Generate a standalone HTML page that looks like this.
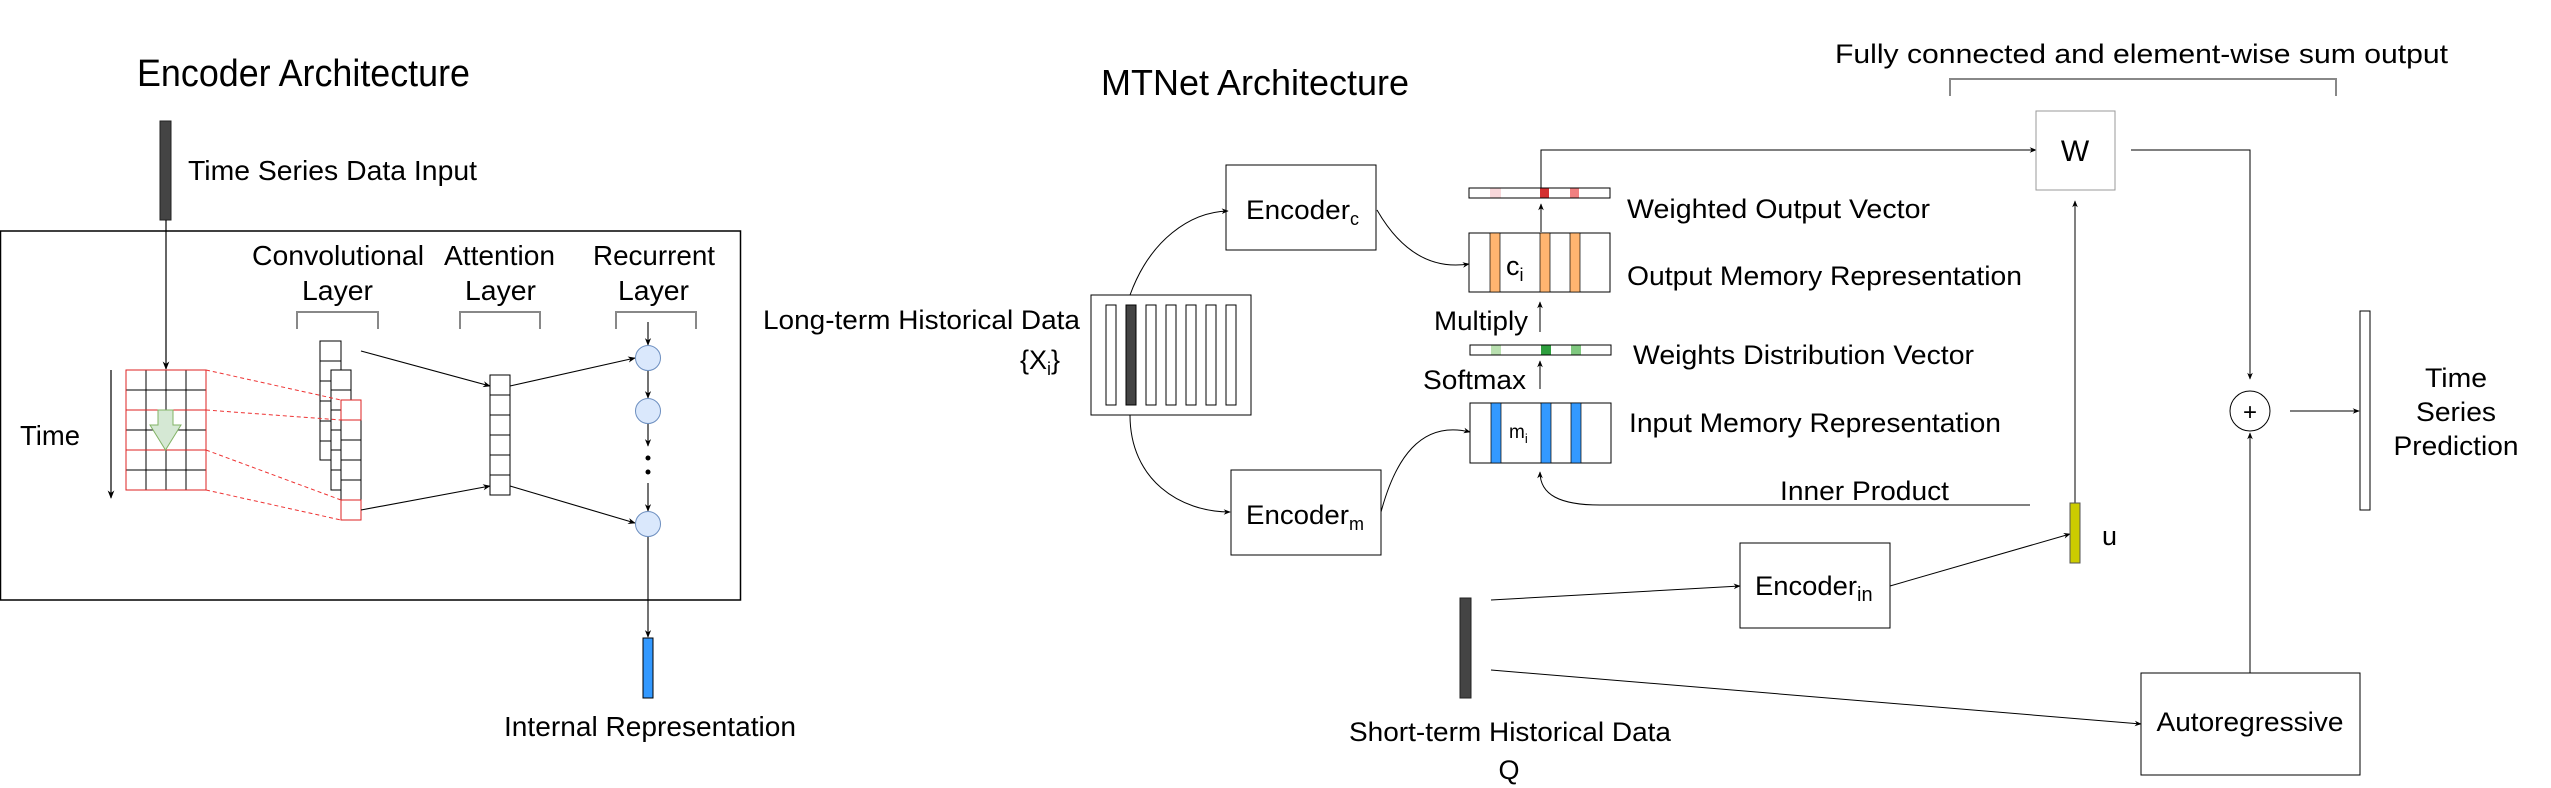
<!DOCTYPE html>
<html><head><meta charset="utf-8"><style>
html,body{margin:0;padding:0;background:#fff}
svg{display:block}
text{font-family:"Liberation Sans",Arial,sans-serif;fill:#000}
</style></head><body>
<svg width="2551" height="788" viewBox="0 0 2551 788" xmlns="http://www.w3.org/2000/svg">
<defs>
<marker id="ah" viewBox="0 0 10 10" refX="9" refY="5" markerWidth="7" markerHeight="7" orient="auto"><path d="M0,1 L10,5 L0,9 L3,5 z" fill="#000"/></marker>
</defs>

<!-- Encoder architecture -->
<g>
<text x="137" y="86" font-size="38" textLength="333" lengthAdjust="spacingAndGlyphs">Encoder Architecture</text>
<rect x="160" y="121" width="11" height="99" fill="#444" stroke="#222"/>
<text x="188" y="180" font-size="28" textLength="289" lengthAdjust="spacingAndGlyphs">Time Series Data Input</text>
<rect x="0.5" y="231" width="740" height="369" fill="none" stroke="#000" stroke-width="1.5"/>
<line x1="166" y1="220" x2="166" y2="369" stroke="#000" stroke-width="1.2" marker-end="url(#ah)"/>
<!-- grid -->
<g stroke="#000" stroke-width="1">
<line x1="146" y1="370" x2="146" y2="490"/><line x1="166" y1="370" x2="166" y2="490"/><line x1="186" y1="370" x2="186" y2="490"/>
<line x1="126" y1="390" x2="206" y2="390"/><line x1="126" y1="430" x2="206" y2="430"/><line x1="126" y1="470" x2="206" y2="470"/>
<rect x="126" y="370" width="80" height="40" fill="none" stroke="#d22"/>
<rect x="126" y="450" width="80" height="40" fill="none" stroke="#d22"/>
<rect x="126" y="370" width="80" height="120" fill="none" stroke="#d22"/>
</g>
<polygon points="158,410 173,410 173,425 181,425 165.5,450 150,425 158,425" fill="#d5e8d4" stroke="#82b366"/>
<line x1="111" y1="370" x2="111" y2="498" stroke="#000" stroke-width="1.2" marker-end="url(#ah)"/>
<text x="20" y="445" font-size="28" textLength="60" lengthAdjust="spacingAndGlyphs">Time</text>
<!-- conv columns -->
<g fill="#fff" stroke="#000" stroke-width="1">
<rect x="320" y="341" width="21" height="119"/>
<line x1="320" y1="361" x2="341" y2="361"/><line x1="320" y1="381" x2="341" y2="381"/><line x1="320" y1="401" x2="341" y2="401"/><line x1="320" y1="421" x2="341" y2="421"/><line x1="320" y1="441" x2="341" y2="441"/>
<rect x="331" y="370" width="20" height="120"/>
<line x1="331" y1="390" x2="351" y2="390"/><line x1="331" y1="410" x2="351" y2="410"/><line x1="331" y1="430" x2="351" y2="430"/><line x1="331" y1="450" x2="351" y2="450"/><line x1="331" y1="470" x2="351" y2="470"/>
<rect x="341" y="400" width="20" height="120"/>
<line x1="341" y1="440" x2="361" y2="440"/><line x1="341" y1="460" x2="361" y2="460"/><line x1="341" y1="480" x2="361" y2="480"/>
<rect x="341" y="400" width="20" height="20" stroke="#d22"/>
<rect x="341" y="500" width="20" height="20" stroke="#d22"/>
</g>
<g stroke="#e33" stroke-dasharray="4,3" stroke-width="1">
<line x1="206" y1="370" x2="341" y2="400"/><line x1="206" y1="410" x2="341" y2="420"/>
<line x1="206" y1="450" x2="341" y2="500"/><line x1="206" y1="490" x2="341" y2="520"/>
</g>
<text x="252" y="265" font-size="28" textLength="172" lengthAdjust="spacingAndGlyphs">Convolutional</text>
<text x="302" y="300" font-size="28" textLength="71" lengthAdjust="spacingAndGlyphs">Layer</text>
<text x="444" y="265" font-size="28" textLength="111" lengthAdjust="spacingAndGlyphs">Attention</text>
<text x="465" y="300" font-size="28" textLength="71" lengthAdjust="spacingAndGlyphs">Layer</text>
<text x="593" y="265" font-size="28" textLength="122" lengthAdjust="spacingAndGlyphs">Recurrent</text>
<text x="618" y="300" font-size="28" textLength="71" lengthAdjust="spacingAndGlyphs">Layer</text>
<g fill="none" stroke="#888" stroke-width="2">
<polyline points="297,329 297,312 378,312 378,329"/>
<polyline points="460,329 460,312 540,312 540,329"/>
<polyline points="616,329 616,312 696,312 696,329"/>
</g>
<g fill="#fff" stroke="#000" stroke-width="1">
<rect x="490" y="375" width="20" height="120"/>
<line x1="490" y1="395" x2="510" y2="395"/><line x1="490" y1="415" x2="510" y2="415"/><line x1="490" y1="435" x2="510" y2="435"/><line x1="490" y1="455" x2="510" y2="455"/><line x1="490" y1="475" x2="510" y2="475"/>
</g>
<g stroke="#000" stroke-width="1.1" marker-end="url(#ah)" fill="none">
<line x1="361" y1="351" x2="490" y2="386"/><line x1="361" y1="510" x2="490" y2="486"/>
<line x1="510" y1="386" x2="635" y2="358"/><line x1="510" y1="486" x2="635" y2="523"/>
<line x1="648" y1="322" x2="648" y2="345"/><line x1="648" y1="371" x2="648" y2="398"/><line x1="648" y1="424" x2="648" y2="446"/><line x1="648" y1="483" x2="648" y2="511"/>
<line x1="648" y1="537" x2="648" y2="637"/>
</g>
<g fill="#dae8fc" stroke="#6c8ebf">
<ellipse cx="648" cy="358" rx="12.5" ry="12.5"/><ellipse cx="648" cy="411" rx="12.5" ry="12.5"/><ellipse cx="648" cy="524" rx="12.5" ry="12.5"/>
</g>
<circle cx="648" cy="458" r="2.5" fill="#000"/><circle cx="648" cy="472" r="2.5" fill="#000"/>
<rect x="643" y="638" width="10" height="60" fill="#3399ff" stroke="#000"/>
<text x="504" y="736" font-size="28" textLength="292" lengthAdjust="spacingAndGlyphs">Internal Representation</text>
</g>

<!-- MTNet -->
<g>
<text x="1101" y="95" font-size="36" textLength="308" lengthAdjust="spacingAndGlyphs">MTNet Architecture</text>
<text x="763" y="329" font-size="27" textLength="317" lengthAdjust="spacingAndGlyphs">Long-term Historical Data</text>
<text x="1020" y="369" font-size="27">{X<tspan font-size="18" dy="6">i</tspan><tspan dy="-6">}</tspan></text>
<rect x="1091" y="295" width="160" height="120" fill="#fff" stroke="#000"/>
<g stroke="#000" fill="#fff">
<rect x="1106" y="305" width="10" height="100"/><rect x="1126" y="305" width="10" height="100" fill="#444"/>
<rect x="1146" y="305" width="10" height="100"/><rect x="1166" y="305" width="10" height="100"/>
<rect x="1186" y="305" width="10" height="100"/><rect x="1206" y="305" width="10" height="100"/><rect x="1226" y="305" width="10" height="100"/>
</g>
<rect x="1226" y="165" width="150" height="85" fill="#fff" stroke="#000"/>
<text x="1246" y="219" font-size="27" textLength="104" lengthAdjust="spacingAndGlyphs">Encoder</text><text x="1350" y="225" font-size="18">c</text>
<rect x="1231" y="470" width="150" height="85" fill="#fff" stroke="#000"/>
<text x="1246" y="524" font-size="27" textLength="103" lengthAdjust="spacingAndGlyphs">Encoder</text><text x="1349" y="530" font-size="18">m</text>
<g fill="none" stroke="#000" stroke-width="1" marker-end="url(#ah)">
<path d="M1130,295 C1150,240 1190,212 1228,211"/>
<path d="M1130,415 C1130,480 1180,512 1230,512"/>
<path d="M1377,210 C1400,250 1430,270 1469,264"/>
<path d="M1381,512 C1395,460 1420,420 1470,432"/>
<path d="M2030,505 L1600,505 C1560,505 1540,495 1540,472"/>
<line x1="1540" y1="332" x2="1540" y2="302"/>
<line x1="1540" y1="389" x2="1540" y2="361"/>
<line x1="1541" y1="232" x2="1541" y2="204"/>
<polyline points="1541,188 1541,150 2036,150"/>
<polyline points="2131,150 2250,150 2250,379"/>
<line x1="2290" y1="411" x2="2359" y2="411"/>
<line x1="2250" y1="673" x2="2250" y2="433"/>
<line x1="2075" y1="503" x2="2075" y2="201"/>
<line x1="1491" y1="600" x2="1740" y2="586"/>
<line x1="1890" y1="586" x2="2070" y2="534"/>
<line x1="1491" y1="670" x2="2141" y2="724"/>
</g>
<!-- vectors -->
<g>
<rect x="1469" y="188" width="141" height="10" fill="#fff" stroke="#000"/>
<rect x="1490" y="188" width="11" height="10" fill="#f8d7da"/><rect x="1540" y="188" width="9" height="10" fill="#d32f2f"/><rect x="1570" y="188" width="9" height="10" fill="#f08080"/>
<rect x="1469" y="188" width="141" height="10" fill="none" stroke="#000"/>
</g>
<g>
<rect x="1469" y="233" width="141" height="59" fill="#fff" stroke="#000"/>
<rect x="1490" y="233" width="10" height="59" fill="#ffb570" stroke="#000" stroke-width="0.7"/><rect x="1540" y="233" width="10" height="59" fill="#ffb570" stroke="#000" stroke-width="0.7"/><rect x="1570" y="233" width="10" height="59" fill="#ffb570" stroke="#000" stroke-width="0.7"/>
<text x="1506" y="275" font-size="27">c<tspan font-size="18" dy="6">i</tspan></text>
</g>
<g>
<rect x="1470" y="345" width="141" height="10" fill="#fff" stroke="#000"/>
<rect x="1491" y="345" width="10" height="10" fill="#b9e0b0"/><rect x="1541" y="345" width="10" height="10" fill="#2e9e3e"/><rect x="1571" y="345" width="10" height="10" fill="#7fc87f"/>
<rect x="1470" y="345" width="141" height="10" fill="none" stroke="#000"/>
</g>
<g>
<rect x="1470" y="403" width="141" height="60" fill="#fff" stroke="#000"/>
<rect x="1491" y="403" width="10" height="60" fill="#3399ff" stroke="#000" stroke-width="0.7"/><rect x="1541" y="403" width="10" height="60" fill="#3399ff" stroke="#000" stroke-width="0.7"/><rect x="1571" y="403" width="10" height="60" fill="#3399ff" stroke="#000" stroke-width="0.7"/>
<text x="1509" y="438" font-size="19">m<tspan font-size="13" dy="5">i</tspan></text>
</g>
<text x="1434" y="330" font-size="27" textLength="94" lengthAdjust="spacingAndGlyphs">Multiply</text>
<text x="1423" y="389" font-size="27" textLength="103" lengthAdjust="spacingAndGlyphs">Softmax</text>
<text x="1627" y="218" font-size="27" textLength="303" lengthAdjust="spacingAndGlyphs">Weighted Output Vector</text>
<text x="1627" y="285" font-size="27" textLength="395" lengthAdjust="spacingAndGlyphs">Output Memory Representation</text>
<text x="1633" y="364" font-size="27" textLength="341" lengthAdjust="spacingAndGlyphs">Weights Distribution Vector</text>
<text x="1629" y="432" font-size="27" textLength="372" lengthAdjust="spacingAndGlyphs">Input Memory Representation</text>
<text x="1780" y="500" font-size="27" textLength="169" lengthAdjust="spacingAndGlyphs">Inner Product</text>
<text x="1835" y="63" font-size="27" textLength="613" lengthAdjust="spacingAndGlyphs">Fully connected and element-wise sum output</text>
<polyline points="1950,96 1950,79 2336,79 2336,96" fill="none" stroke="#888" stroke-width="2"/>
<rect x="2036" y="111" width="79" height="79" fill="#fff" stroke="#999"/>
<text x="2075" y="161" font-size="30" text-anchor="middle">W</text>
<circle cx="2250" cy="411" r="20" fill="#fff" stroke="#000"/>
<text x="2250" y="420" font-size="24" text-anchor="middle">+</text>
<rect x="2360" y="311" width="10" height="199" fill="#fff" stroke="#000"/>
<text x="2456" y="387" font-size="27" text-anchor="middle" textLength="62" lengthAdjust="spacingAndGlyphs">Time</text>
<text x="2456" y="421" font-size="27" text-anchor="middle" textLength="80" lengthAdjust="spacingAndGlyphs">Series</text>
<text x="2456" y="455" font-size="27" text-anchor="middle" textLength="125" lengthAdjust="spacingAndGlyphs">Prediction</text>
<rect x="2070" y="503" width="10" height="60" fill="#cccc00" stroke="#555"/>
<text x="2102" y="545" font-size="27">u</text>
<rect x="1740" y="543" width="150" height="85" fill="#fff" stroke="#000"/>
<text x="1755" y="595" font-size="27" textLength="102" lengthAdjust="spacingAndGlyphs">Encoder</text><text x="1857" y="601" font-size="20">in</text>
<rect x="1460" y="598" width="11" height="100" fill="#444" stroke="#222"/>
<text x="1349" y="741" font-size="27" textLength="322" lengthAdjust="spacingAndGlyphs">Short-term Historical Data</text>
<text x="1509" y="779" font-size="27" text-anchor="middle">Q</text>
<rect x="2141" y="673" width="219" height="102" fill="#fff" stroke="#000"/>
<text x="2250" y="731" font-size="27" text-anchor="middle" textLength="187" lengthAdjust="spacingAndGlyphs">Autoregressive</text>
</g>
</svg>
</body></html>
